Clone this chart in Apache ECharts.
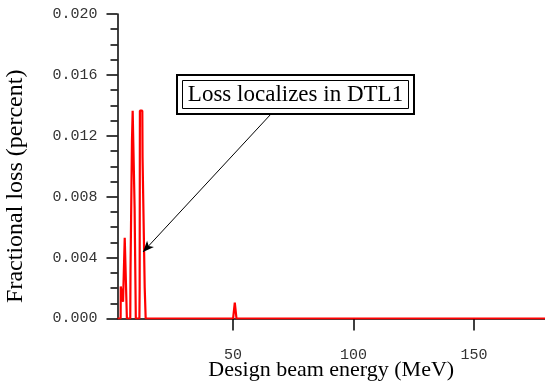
<!DOCTYPE html>
<html><head><meta charset="utf-8">
<script src="https://cdn.jsdelivr.net/npm/echarts@6/dist/echarts.min.js"></script>
<style>html,body{margin:0;padding:0;background:#fff}#c{width:545px;height:384px}</style>
</head><body><div id="c"></div>
<script>
// Design beam energy (MeV)
const energy = [2.0, 3.3, 3.35, 4.1, 4.3, 4.9, 5.0, 5.8, 5.9, 7.3, 7.4, 7.9, 8.0, 8.2, 8.3, 9.0, 9.1, 9.5, 9.6,
  11.1, 11.2, 11.3, 12.3, 12.4, 13.2, 13.3, 13.6, 13.7, 50.0, 50.7, 51.4, 179.5];
// Fractional loss (percent)
const loss = [0, 0, 0.0021, 0.0021, 0.0011, 0.0011, 0.0053, 0.0053, 0, 0, 0.0031, 0.0031, 0.0116, 0.0116, 0.01365, 0.01365, 0.0073, 0.0073, 0,
  0, 0.0020, 0.01365, 0.01365, 0.0106, 0.0106, 0.0020, 0.0020, 0, 0, 0.00105, 0, 0];
const xTicks = [50, 100, 150];
const annotationText = 'Loss localizes in DTL1';
const arrowFrom = [65.5, 0.01339];
const arrowTo = [12.6, 0.00437];

const chart = echarts.init(document.getElementById('c'), null, {renderer: 'canvas'});
const monoLabel = {fontFamily: 'Liberation Mono', fontSize: 15, color: '#333'};
chart.setOption({
  animation: false,
  backgroundColor: '#fff',
  grid: {left: 117.5, right: 0, top: 14, bottom: 65.5, containLabel: false, outerBoundsMode: 'none'},
  xAxis: {
    type: 'value', min: 2, max: 179.5,
    name: 'Design beam energy (MeV)', nameLocation: 'middle', nameGap: 41, nameMoveOverlap: false,
    nameTextStyle: {fontFamily: 'Liberation Serif', fontSize: 22, color: '#000'},
    axisLine: {show: true, onZero: false, lineStyle: {color: '#000', width: 1.5}},
    axisTick: {show: true, length: 12, customValues: xTicks, lineStyle: {color: '#000', width: 1.5}},
    axisLabel: Object.assign({customValues: xTicks, margin: 29}, monoLabel),
    splitLine: {show: false}
  },
  yAxis: {
    type: 'value', min: 0, max: 0.02, interval: 0.004,
    name: 'Fractional loss (percent)', nameLocation: 'middle', nameGap: 90,
    nameTextStyle: {fontFamily: 'Liberation Serif', fontSize: 24, color: '#000', padding: [0, 40, 0, 0]},
    axisLine: {show: true, lineStyle: {color: '#000', width: 1.5}},
    axisTick: {show: true, length: 11, lineStyle: {color: '#000', width: 1.5}},
    minorTick: {show: true, splitNumber: 4, length: 7, lineStyle: {color: '#000', width: 1.5}},
    axisLabel: Object.assign({margin: 20, formatter: v => v.toFixed(3)}, monoLabel),
    splitLine: {show: false}
  },
  series: [{
    type: 'line',
    data: energy.map((e, i) => [e, loss[i]]),
    showSymbol: false, symbol: 'none',
    lineStyle: {color: '#ff0000', width: 2.2},
    itemStyle: {color: '#ff0000'},
    silent: true,
    markLine: {
      silent: true, symbol: ['none', 'arrow'], symbolSize: [7, 11],
      label: {show: false},
      lineStyle: {color: '#000', width: 1, type: 'solid'},
      emphasis: {disabled: true},
      data: [[{coord: arrowFrom}, {coord: arrowTo}]]
    }
  }],
  graphic: [{
    type: 'group', left: 176, top: 74, z: 100,
    children: [
      {type: 'rect', shape: {x: 0, y: 0, width: 237, height: 39}, style: {fill: '#fff', stroke: '#000', lineWidth: 2}},
      {type: 'rect', shape: {x: 5.5, y: 5.5, width: 226, height: 28}, style: {fill: 'none', stroke: '#000', lineWidth: 1}},
      {type: 'text', x: 118.5, y: 20, style: {text: annotationText, fontFamily: 'Liberation Serif', fontSize: 23, fill: '#000', align: 'center', verticalAlign: 'middle'}}
    ]
  }]
});
</script></body></html>
